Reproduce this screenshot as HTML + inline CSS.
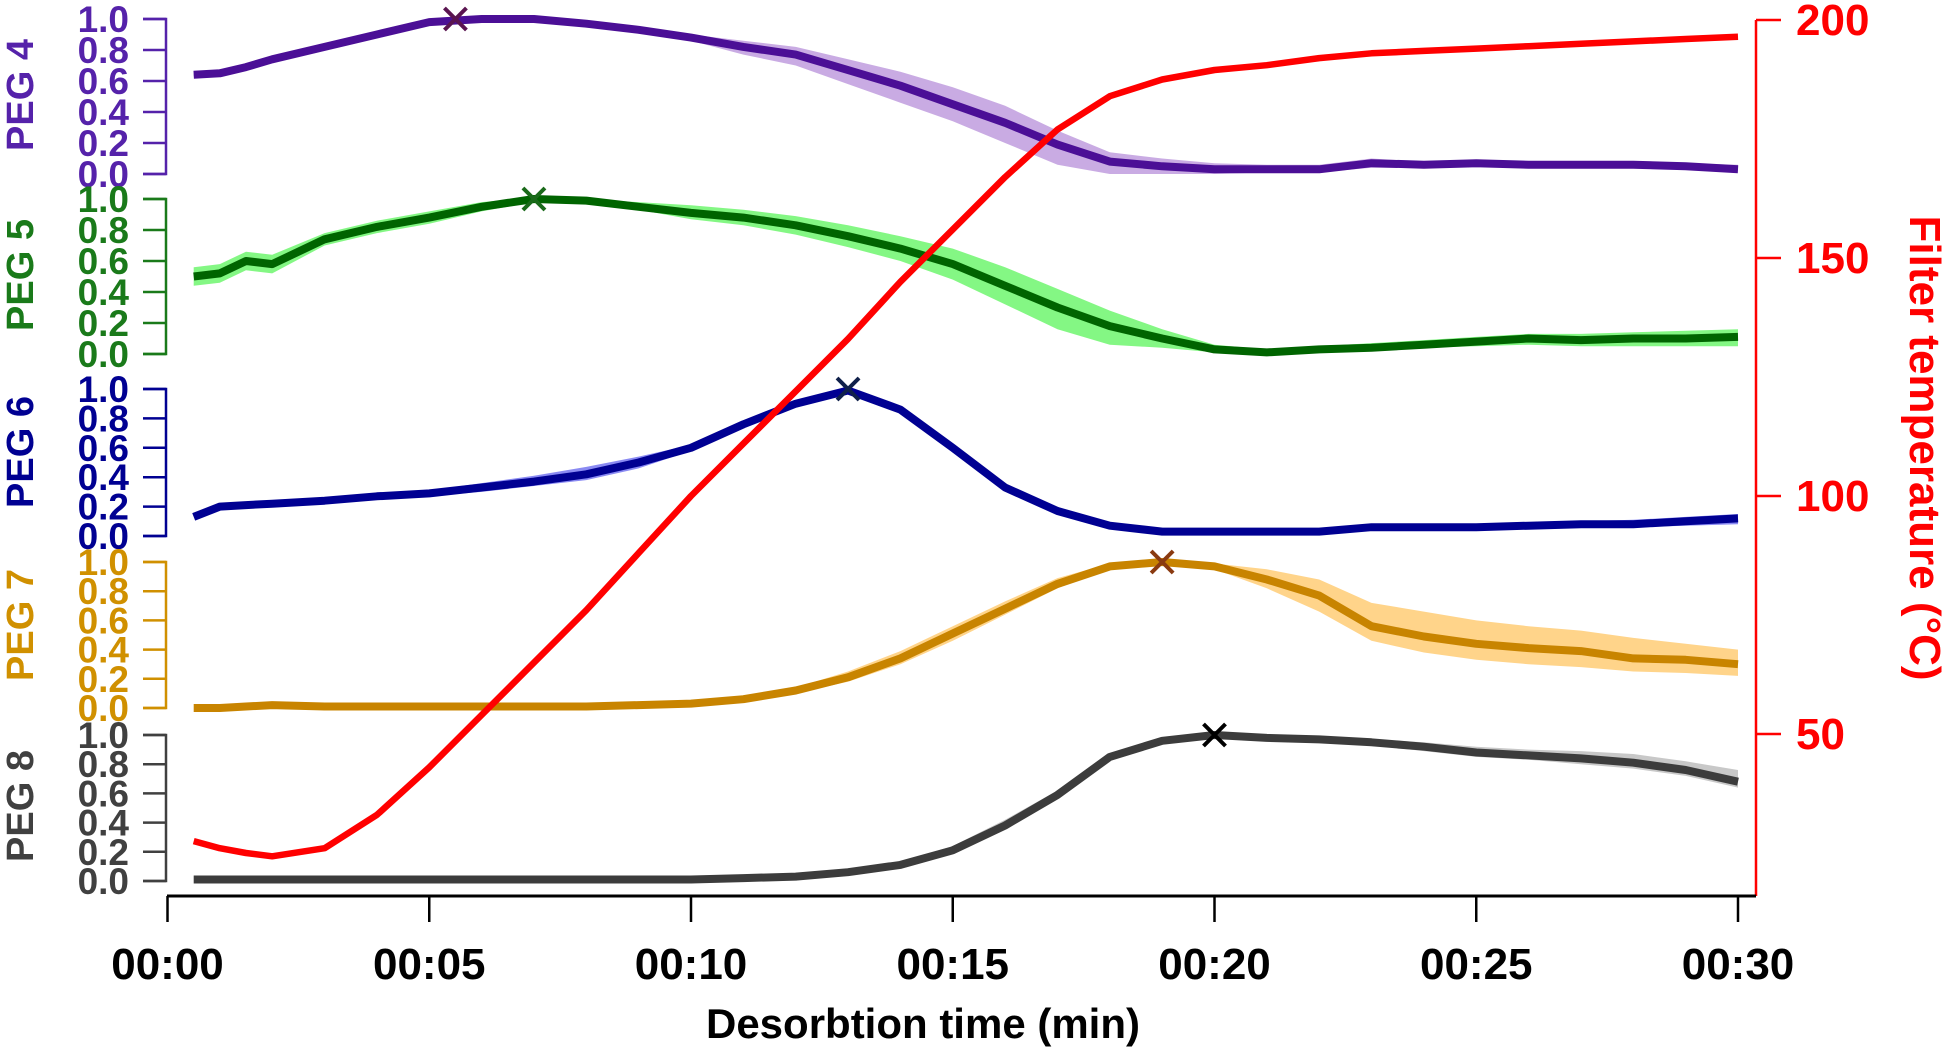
<!DOCTYPE html>
<html><head><meta charset="utf-8"><style>
html,body{margin:0;padding:0;background:#fff}
svg{display:block}
text{font-family:"Liberation Sans",Arial,sans-serif;font-weight:bold}
</style></head><body>
<svg id="chart" width="1946" height="1049" viewBox="0 0 1946 1049" xmlns="http://www.w3.org/2000/svg"></svg>
<script>
const times=[0.5,1,1.5,2,3,4,5,6,7,8,9,10,11,12,13,14,15,16,17,18,19,20,21,22,23,24,25,26,27,28,29,30];
const peg4=[0.64,0.65,0.69,0.74,0.82,0.9,0.98,1.0,1.0,0.97,0.93,0.88,0.82,0.77,0.67,0.57,0.45,0.33,0.19,0.08,0.05,0.03,0.03,0.03,0.07,0.06,0.07,0.06,0.06,0.06,0.05,0.03];
const peg4Hi=[0.65,0.66,0.7,0.75,0.83,0.91,0.99,1.0,1.0,0.98,0.94,0.9,0.86,0.82,0.74,0.66,0.56,0.44,0.28,0.14,0.1,0.07,0.06,0.06,0.1,0.08,0.09,0.08,0.08,0.08,0.07,0.06];
const peg4Lo=[0.63,0.64,0.68,0.73,0.81,0.89,0.97,0.99,0.99,0.96,0.92,0.86,0.77,0.7,0.58,0.46,0.34,0.2,0.06,0.0,0.0,0.0,0.01,0.01,0.04,0.04,0.05,0.04,0.04,0.04,0.03,0.02];
const peg5=[0.5,0.52,0.6,0.58,0.74,0.82,0.88,0.95,1.0,0.99,0.95,0.91,0.88,0.83,0.76,0.68,0.58,0.44,0.3,0.18,0.1,0.03,0.01,0.03,0.04,0.06,0.08,0.1,0.09,0.1,0.1,0.11];
const peg5Hi=[0.56,0.58,0.66,0.64,0.78,0.86,0.92,0.98,1.01,1.0,0.98,0.96,0.93,0.89,0.83,0.76,0.68,0.56,0.42,0.28,0.16,0.06,0.03,0.05,0.07,0.09,0.11,0.13,0.13,0.14,0.15,0.16];
const peg5Lo=[0.44,0.46,0.54,0.52,0.7,0.78,0.84,0.92,0.98,0.98,0.93,0.87,0.83,0.77,0.69,0.6,0.48,0.32,0.16,0.06,0.04,0.01,0.0,0.01,0.02,0.04,0.05,0.06,0.05,0.05,0.05,0.05];
const peg6=[0.13,0.2,0.21,0.22,0.24,0.27,0.29,0.33,0.37,0.42,0.5,0.6,0.76,0.9,0.99,0.86,0.6,0.33,0.17,0.07,0.03,0.03,0.03,0.03,0.06,0.06,0.06,0.07,0.08,0.08,0.1,0.12];
const peg6Hi=[0.13,0.2,0.21,0.22,0.24,0.28,0.31,0.36,0.41,0.47,0.54,0.62,0.77,0.9,0.99,0.86,0.6,0.33,0.17,0.07,0.03,0.03,0.03,0.04,0.06,0.07,0.08,0.09,0.1,0.11,0.13,0.15];
const peg6Lo=[0.13,0.2,0.21,0.22,0.24,0.26,0.27,0.3,0.34,0.38,0.46,0.58,0.75,0.9,0.99,0.86,0.6,0.33,0.17,0.07,0.03,0.03,0.03,0.03,0.05,0.05,0.05,0.05,0.06,0.06,0.07,0.08];
const peg7=[0.0,0.0,0.01,0.02,0.01,0.01,0.01,0.01,0.01,0.01,0.02,0.03,0.06,0.12,0.21,0.34,0.51,0.68,0.85,0.97,1.0,0.97,0.88,0.77,0.56,0.49,0.44,0.41,0.39,0.34,0.33,0.3];
const peg7Hi=[0.0,0.0,0.01,0.02,0.01,0.01,0.01,0.01,0.01,0.01,0.02,0.04,0.07,0.14,0.25,0.39,0.56,0.73,0.89,0.99,1.0,0.99,0.95,0.88,0.72,0.66,0.6,0.56,0.53,0.48,0.44,0.4];
const peg7Lo=[0.0,0.0,0.01,0.02,0.01,0.01,0.01,0.01,0.01,0.01,0.02,0.02,0.05,0.1,0.18,0.3,0.46,0.64,0.82,0.95,0.99,0.95,0.82,0.66,0.46,0.38,0.33,0.3,0.28,0.25,0.24,0.22];
const peg8=[0.01,0.01,0.01,0.01,0.01,0.01,0.01,0.01,0.01,0.01,0.01,0.01,0.02,0.03,0.06,0.11,0.21,0.38,0.59,0.85,0.96,1.0,0.98,0.97,0.95,0.92,0.88,0.86,0.84,0.81,0.76,0.68];
const peg8Hi=[0.01,0.01,0.01,0.01,0.01,0.01,0.01,0.01,0.01,0.01,0.01,0.01,0.02,0.03,0.07,0.13,0.24,0.42,0.62,0.86,0.96,1.0,0.99,0.98,0.97,0.95,0.92,0.9,0.89,0.87,0.82,0.76];
const peg8Lo=[0.01,0.01,0.01,0.01,0.01,0.01,0.01,0.01,0.01,0.01,0.01,0.01,0.02,0.03,0.06,0.1,0.2,0.36,0.57,0.84,0.95,0.99,0.97,0.95,0.93,0.89,0.85,0.83,0.8,0.77,0.72,0.64];
const temperature=[27.5,26,25,24.3,26,33,43,54,65,76,88,100,111,122,133,145,156,167,177,184,187.5,189.5,190.5,192,193,193.5,194,194.5,195,195.5,196,196.5];
const peakTimes=[5.5,7,13,19,20];
const xTickLabels=["00:00","00:05","00:10","00:15","00:20","00:25","00:30"];
const xTickValues=[0,5,10,15,20,25,30];
const tempTicks=[50,100,150,200];
const yTickValues=[0,0.2,0.4,0.6,0.8,1.0];

const NS="http://www.w3.org/2000/svg";
const svg=document.getElementById('chart');
function mk(tag,attrs,parent){const e=document.createElementNS(NS,tag);for(const k in attrs)e.setAttribute(k,attrs[k]);(parent||svg).appendChild(e);return e;}
const X=t=>167.5+t*(1738-167.5)/30;
const TY=v=>734-(v-50)*(734-20)/150;

const panels=[
 {name:'peg-4',label:'PEG 4',top:19,bot:174,data:peg4,hi:peg4Hi,lo:peg4Lo,line:'#4b0f96',band:'#c9abe3',axis:'#5522aa',mark:'#5a1450',lab:95},
 {name:'peg-5',label:'PEG 5',top:199,bot:354,data:peg5,hi:peg5Hi,lo:peg5Lo,line:'#006400',band:'#84f784',axis:'#1a7a1a',mark:'#1a6a1a',lab:275},
 {name:'peg-6',label:'PEG 6',top:389,bot:536,data:peg6,hi:peg6Hi,lo:peg6Lo,line:'#000092',band:'#8a8af2',axis:'#000092',mark:'#10204a',lab:452},
 {name:'peg-7',label:'PEG 7',top:562,bot:708,data:peg7,hi:peg7Hi,lo:peg7Lo,line:'#c88400',band:'#ffd48a',axis:'#d09000',mark:'#8a3a10',lab:625},
 {name:'peg-8',label:'PEG 8',top:735,bot:881,data:peg8,hi:peg8Hi,lo:peg8Lo,line:'#3c3c3c',band:'#c8c8c8',axis:'#404040',mark:'#000000',lab:806}
];

panels.forEach((p,pi)=>{
 const Y=v=>p.bot-v*(p.bot-p.top);
 const g=mk('g',{});
 
 
 const ax=mk('path',{d:`M143 ${p.top} H166 V${p.bot} H143`,fill:'none',stroke:p.axis,'stroke-width':2.5},g);
 
 
 yTickValues.forEach(v=>{
  const tk=mk('line',{x1:143,x2:166,y1:Y(v),y2:Y(v),stroke:p.axis,'stroke-width':2.5},g);
  
  
  const tl=mk('text',{x:129,y:Y(v)+13,'text-anchor':'end','font-size':37,fill:p.axis},g);
  tl.textContent=v.toFixed(1);
  
  
 });
 const lb=mk('text',{x:0,y:0,transform:`translate(33 ${p.lab}) rotate(-90)`,'text-anchor':'middle','font-size':38,fill:p.axis},g);
 lb.textContent=p.label;
 
 
 let d='';
 times.forEach((t,i)=>{d+=(i?'L':'M')+X(t).toFixed(1)+' '+Y(p.hi[i]).toFixed(1);});
 for(let i=times.length-1;i>=0;i--)d+='L'+X(times[i]).toFixed(1)+' '+Y(p.lo[i]).toFixed(1);
 const band=mk('path',{d:d+'Z',fill:p.band,stroke:'none'},g);
 
 
 const pts=times.map((t,i)=>X(t).toFixed(1)+','+Y(p.data[i]).toFixed(1)).join(' ');
 const ln=mk('polyline',{points:pts,fill:'none',stroke:p.line,'stroke-width':8,'stroke-linejoin':'round'},g);
 
 
 const px=X(peakTimes[pi]),py=Y(1.0),s=11;
 const mkr=mk('path',{d:`M${px-s} ${py-s}L${px+s} ${py+s}M${px+s} ${py-s}L${px-s} ${py+s}`,stroke:p.mark,'stroke-width':4,fill:'none'},g);
 
 
});

const tpts=times.map((t,i)=>X(t).toFixed(1)+','+TY(temperature[i]).toFixed(1)).join(' ');
const tl=mk('polyline',{points:tpts,fill:'none',stroke:'#ff0000','stroke-width':6.5,'stroke-linejoin':'round'});



const ra=mk('line',{x1:1756,x2:1756,y1:TY(200),y2:896,stroke:'#ff0000','stroke-width':2.5});


tempTicks.forEach(v=>{
 const tk=mk('line',{x1:1756,x2:1781,y1:TY(v),y2:TY(v),stroke:'#ff0000','stroke-width':2.5});
 
 
 const t=mk('text',{x:1796,y:TY(v)+15,'font-size':44,fill:'#ff0000'});
 t.textContent=v;
 
 
});
const rt=mk('text',{x:0,y:0,transform:'translate(1910 448) rotate(90)','text-anchor':'middle','font-size':44,fill:'#ff0000'});
rt.textContent='Filter temperature (°C)';



const xa=mk('line',{x1:167,x2:1756,y1:896,y2:896,stroke:'#000','stroke-width':3});


xTickValues.forEach((v,i)=>{
 const tk=mk('line',{x1:X(v),x2:X(v),y1:896,y2:922,stroke:'#000','stroke-width':2.5});
 
 
 const t=mk('text',{x:X(v),y:979,'text-anchor':'middle','font-size':44,fill:'#000'});
 t.textContent=xTickLabels[i];
 
 
});
const xt=mk('text',{x:923,y:1038,'text-anchor':'middle','font-size':42,fill:'#000'});
xt.textContent='Desorbtion time (min)';


</script>
</body></html>
